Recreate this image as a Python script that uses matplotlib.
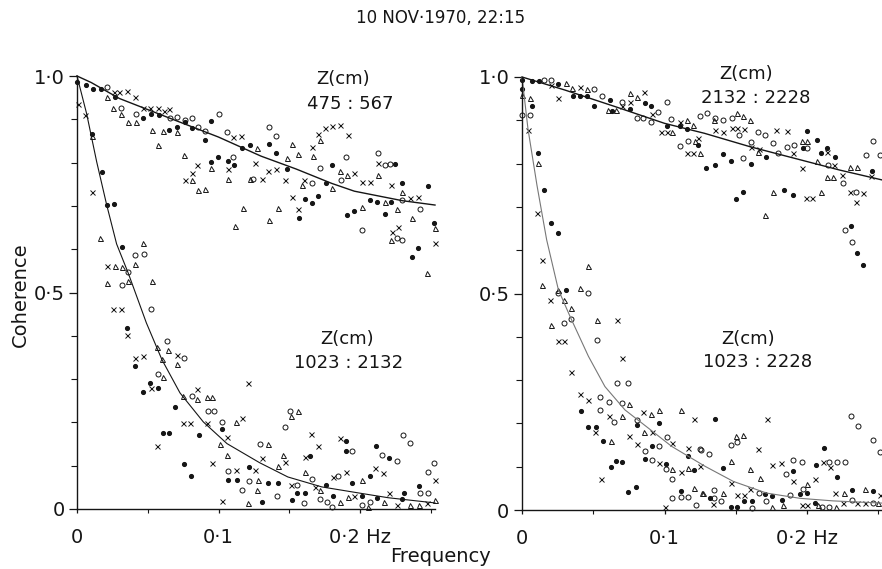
import matplotlib
matplotlib.use("Agg")
import matplotlib.pyplot as plt
from matplotlib.ticker import MultipleLocator, FixedLocator, FixedFormatter

# ---- data: (frequency Hz, coherence) ----
# left panel: 475:567 (upper band) and 1023:2132 (lower band)
L_DOT = [(0.000,0.987),(0.0064,0.980),(0.0115,0.970),(0.0167,0.971),(0.0269,0.952),(0.0464,0.903),(0.0523,0.913),
         (0.0582,0.910),(0.065,0.875),(0.0709,0.883),(0.0763,0.894),(0.081,0.879),(0.0905,0.852),(0.0947,0.896),
         (0.0994,0.813),(0.0947,0.802),(0.1065,0.803),(0.111,0.794),(0.1164,0.834),(0.122,0.840),(0.1357,0.842),
         (0.1404,0.823),(0.1482,0.785),(0.1805,0.794),(0.1611,0.715),(0.1663,0.707),(0.1706,0.723),(0.1906,0.679),
         (0.196,0.689),(0.207,0.713),(0.2123,0.709),(0.2177,0.682),(0.222,0.708),(0.2295,0.752),(0.2478,0.746),
         (0.176,0.754),(0.1569,0.671),(0.2247,0.796),(0.237,0.582),(0.241,0.603),(0.252,0.66),
         (0.0104,0.867),(0.0174,0.779),(0.0214,0.702),(0.026,0.704),(0.0316,0.606),(0.0356,0.419),(0.041,0.331),
         (0.0516,0.292),(0.0575,0.280),(0.0469,0.271),(0.0695,0.236),(0.1022,0.184),(0.061,0.176),(0.0653,0.176),
         (0.0865,0.172),(0.0756,0.105),(0.0803,0.077),(0.107,0.067),(0.1128,0.067),(0.1216,0.097),(0.1899,0.157),
         (0.1899,0.134),(0.211,0.145),(0.2207,0.117),(0.1647,0.122),(0.2071,0.077),(0.1941,0.059),(0.1757,0.055),
         (0.1352,0.059),(0.1418,0.059),(0.1552,0.036),(0.1517,0.020),(0.1611,0.036),(0.1305,0.017),(0.1812,0.030),
         (0.2012,0.030),(0.2118,0.026),(0.2313,0.037),(0.2417,0.053),(0.2295,0.022)]
L_CIRC = [(0.0214,0.975),(0.031,0.927),(0.0417,0.913),(0.0657,0.902),(0.0709,0.906),(0.0763,0.898),(0.081,0.903),
          (0.0857,0.883),(0.0905,0.873),(0.1006,0.912),(0.1058,0.871),(0.1105,0.813),(0.1246,0.763),(0.1357,0.883),
          (0.1404,0.861),(0.1899,0.813),(0.1717,0.788),(0.2125,0.823),(0.2177,0.794),(0.2212,0.796),(0.2295,0.713),
          (0.2012,0.644),(0.2259,0.625),(0.1866,0.759),(0.2424,0.692),(0.1658,0.753),(0.230,0.621),
          (0.041,0.586),(0.0473,0.588),(0.0358,0.548),(0.032,0.517),(0.0523,0.462),(0.0638,0.388),(0.0759,0.348),
          (0.0575,0.311),(0.081,0.261),(0.0928,0.227),(0.0968,0.226),(0.1027,0.200),(0.1065,0.088),(0.1218,0.064),
          (0.1166,0.045),(0.1505,0.227),(0.147,0.190),(0.1941,0.134),(0.2306,0.170),(0.2353,0.153),(0.2153,0.124),
          (0.2264,0.110),(0.1293,0.151),(0.2525,0.107),(0.2478,0.086),(0.1847,0.077),(0.1658,0.070),(0.1552,0.055),
          (0.1411,0.030),(0.1607,0.014),(0.1717,0.024),(0.1764,0.017),(0.1805,0.005),(0.2012,0.009),(0.2071,0.017),
          (0.2424,0.036),(0.2483,0.036)]
L_TRI = [(0.0214,0.952),(0.0257,0.927),(0.031,0.913),(0.0358,0.893),(0.0417,0.893),(0.0528,0.875),(0.0605,0.873),
         (0.0575,0.840),(0.0704,0.871),(0.0759,0.817),(0.0815,0.759),(0.0853,0.736),(0.0905,0.738),(0.0947,0.788),
         (0.1065,0.763),(0.117,0.696),(0.112,0.654),(0.122,0.763),(0.127,0.834),(0.1517,0.843),(0.1564,0.819),
         (0.1482,0.811),(0.167,0.815),(0.1717,0.852),(0.1859,0.780),(0.1906,0.771),(0.1805,0.742),(0.213,0.771),
         (0.1588,0.748),(0.1418,0.694),(0.1357,0.667),(0.2012,0.698),(0.2177,0.709),(0.2259,0.692),(0.2295,0.732),
         (0.222,0.621),(0.2365,0.671),(0.253,0.648),(0.247,0.545),
         (0.0104,0.862),(0.0163,0.625),(0.0469,0.615),(0.0269,0.561),(0.0316,0.559),(0.041,0.565),(0.0214,0.522),
         (0.0363,0.526),(0.0528,0.526),(0.0568,0.375),(0.0645,0.368),(0.0598,0.346),(0.0704,0.336),(0.0605,0.305),
         (0.0751,0.262),(0.0846,0.253),(0.0921,0.258),(0.0952,0.258),(0.1011,0.151),(0.1121,0.200),(0.1058,0.124),
         (0.127,0.045),(0.1211,0.015),(0.1560,0.227),(0.1512,0.214),(0.1352,0.151),(0.1458,0.124),(0.1418,0.099),
         (0.2012,0.067),(0.1611,0.086),(0.1717,0.043),(0.1282,0.067),(0.1859,0.017),(0.1913,0.028),(0.2059,0.005),
         (0.2172,0.017),(0.2353,0.009),(0.2417,0.009),(0.253,0.020)]
L_X = [(0.001,0.936),(0.026,0.963),(0.030,0.963),(0.035,0.965),(0.041,0.952),(0.0464,0.926),(0.0516,0.927),
       (0.0575,0.925),(0.0617,0.920),(0.065,0.923),(0.0846,0.794),(0.081,0.775),(0.0763,0.759),(0.1105,0.859),
       (0.1157,0.861),(0.1065,0.786),(0.126,0.798),(0.1663,0.836),(0.1706,0.867),(0.1753,0.879),(0.1800,0.885),
       (0.1859,0.886),(0.1913,0.863),(0.1352,0.780),(0.1404,0.786),(0.1305,0.761),(0.147,0.759),(0.1607,0.759),
       (0.1517,0.721),(0.156,0.692),(0.196,0.775),(0.2012,0.756),(0.207,0.756),(0.2125,0.800),(0.222,0.748),
       (0.2354,0.719),(0.2412,0.721),(0.2224,0.640),(0.2271,0.652),(0.253,0.615),
       (0.0057,0.911),(0.0104,0.732),(0.0214,0.561),(0.0252,0.463),(0.0309,0.462),(0.0351,0.402),(0.041,0.348),
       (0.0464,0.354),(0.0704,0.355),(0.0523,0.280),(0.0846,0.278),(0.0751,0.198),(0.0799,0.199),(0.0921,0.198),
       (0.1058,0.167),(0.0568,0.146),(0.1164,0.211),(0.1206,0.292),(0.0952,0.107),(0.1124,0.090),(0.1022,0.018),
       (0.1654,0.174),(0.170,0.145),(0.1859,0.163),(0.147,0.109),(0.1611,0.120),(0.1305,0.117),(0.253,0.068),
       (0.2106,0.094),(0.2165,0.084),(0.1812,0.074),(0.1899,0.086),(0.1682,0.051),(0.1258,0.090),(0.1512,0.055),
       (0.1960,0.030),(0.2205,0.037),(0.2259,0.009),(0.2471,0.013)]

# right panel: 2132:2228 (upper band) and 1023:2228 (lower band)
R_DOT = [(0.0,0.993),(0.0068,0.991),(0.0119,0.991),(0.0255,0.983),(0.036,0.957),(0.0407,0.955),(0.0454,0.955),
         (0.0505,0.934),(0.0618,0.946),(0.0629,0.922),(0.0758,0.926),(0.0863,0.939),(0.0905,0.932),(0.1015,0.886),
         (0.1109,0.886),(0.1156,0.880),(0.1233,0.843),(0.1291,0.789),(0.1354,0.797),(0.1408,0.822),(0.1464,0.805),
         (0.1605,0.799),(0.1712,0.816),(0.1548,0.734),(0.1502,0.718),(0.1839,0.739),(0.19,0.728),(0.1998,0.876),
         (0.2068,0.855),(0.1969,0.836),(0.2096,0.824),(0.2138,0.837),(0.2196,0.816),(0.2454,0.782),(0.2306,0.655),
         (0.235,0.593),(0.239,0.566),
         (0.0,0.973),(0.0068,0.932),(0.011,0.824),(0.0157,0.739),(0.0204,0.662),(0.025,0.639),(0.0306,0.509),
         (0.0414,0.228),(0.0805,0.197),(0.0961,0.201),(0.0461,0.191),(0.0519,0.191),(0.0566,0.160),(0.0910,0.147),
         (0.1163,0.124),(0.0657,0.114),(0.0699,0.112),(0.0625,0.100),(0.0863,0.118),(0.1008,0.107),(0.1209,0.093),
         (0.0746,0.041),(0.0798,0.053),(0.1114,0.045),(0.1354,0.210),(0.2119,0.143),(0.1408,0.097),(0.1904,0.089),
         (0.2063,0.104),(0.2213,0.077),(0.1319,0.027),(0.1558,0.020),(0.1612,0.020),(0.1464,0.008),(0.1506,0.008),
         (0.1705,0.037),(0.1752,0.033),(0.1822,0.023),(0.1951,0.037),(0.1998,0.039),(0.2313,0.046),(0.2461,0.045),
         (0.2056,0.016)]
R_CIRC = [(0.0157,0.993),(0.0204,0.993),(0.0505,0.973),(0.0559,0.955),(0.0699,0.943),(0.0805,0.905),(0.0851,0.905),
          (0.0905,0.896),(0.0957,0.920),(0.1015,0.943),(0.1046,0.903),(0.1249,0.909),(0.1109,0.841),(0.1163,0.852),
          (0.1296,0.916),(0.1354,0.905),(0.1408,0.901),(0.1471,0.905),(0.1525,0.866),(0.1553,0.812),(0.1605,0.851),
          (0.1658,0.874),(0.1705,0.865),(0.1759,0.847),(0.1799,0.824),(0.1862,0.839),(0.1909,0.843),(0.2002,0.836),
          (0.2150,0.797),(0.2255,0.755),(0.2461,0.852),(0.2412,0.820),(0.2512,0.820),(0.2344,0.734),(0.2267,0.647),
          (0.2313,0.620),
          (0.0056,0.913),(0.0,0.913),(0.0255,0.501),(0.0461,0.501),(0.0297,0.433),(0.0344,0.442),(0.0524,0.393),
          (0.0664,0.293),(0.0746,0.293),(0.0547,0.262),(0.0613,0.249),(0.0699,0.247),(0.0547,0.231),(0.0648,0.204),
          (0.0805,0.208),(0.0863,0.137),(0.0961,0.147),(0.1015,0.168),(0.1254,0.139),(0.091,0.116),(0.1008,0.094),
          (0.105,0.071),(0.1055,0.027),(0.1114,0.029),(0.1163,0.029),(0.1219,0.012),(0.2306,0.217),(0.2355,0.193),
          (0.2465,0.162),(0.2512,0.135),(0.1511,0.156),(0.1464,0.150),(0.1249,0.140),(0.1314,0.129),(0.1899,0.116),
          (0.1962,0.112),(0.1852,0.083),(0.2157,0.112),(0.2213,0.110),(0.2267,0.112),(0.1969,0.048),(0.1347,0.046),
          (0.1347,0.027),(0.1394,0.020),(0.1612,0.004),(0.1665,0.039),(0.1712,0.020),(0.188,0.035),(0.2103,0.008),
          (0.2157,0.006),(0.2313,0.023),(0.2465,0.016)]
R_TRI = [(0.0306,0.986),(0.0353,0.974),(0.0454,0.973),(0.0606,0.924),(0.0657,0.924),(0.0758,0.963),(0.0805,0.953),
         (0.1055,0.872),(0.1156,0.901),(0.1202,0.889),(0.1214,0.852),(0.1249,0.824),(0.1347,0.901),(0.151,0.916),
         (0.1553,0.909),(0.16,0.901),(0.1658,0.826),(0.1962,0.852),(0.1998,0.852),(0.2068,0.805),(0.2138,0.770),
         (0.2185,0.770),(0.2302,0.791),(0.2348,0.793),(0.1759,0.735),(0.2096,0.735),(0.1705,0.682),
         (0.0,0.959),(0.0056,0.951),(0.011,0.801),(0.0466,0.564),(0.0143,0.520),(0.0255,0.509),(0.0297,0.485),
         (0.0407,0.512),(0.0342,0.466),(0.0204,0.428),(0.0524,0.438),(0.0751,0.244),(0.0704,0.218),(0.0905,0.222),
         (0.0961,0.230),(0.1116,0.230),(0.0858,0.179),(0.0625,0.160),(0.1055,0.094),(0.1163,0.097),(0.1209,0.050),
         (0.1261,0.040),(0.1502,0.171),(0.1553,0.173),(0.1464,0.113),(0.1600,0.094),(0.1670,0.075),(0.1998,0.060),
         (0.1272,0.039),(0.1408,0.040),(0.1752,0.008),(0.1829,0.012),(0.2079,0.012),(0.2203,0.006),(0.2259,0.039),
         (0.25,0.016),(0.2407,0.048)]
R_X = [(0.0204,0.982),(0.0255,0.951),(0.0407,0.978),(0.0704,0.934),(0.0758,0.942),(0.0858,0.966),(0.091,0.915),
       (0.0973,0.874),(0.1015,0.872),(0.1109,0.897),(0.1237,0.860),(0.1156,0.824),(0.1198,0.824),(0.1354,0.878),
       (0.1408,0.872),(0.1471,0.883),(0.151,0.883),(0.1558,0.880),(0.1605,0.839),(0.1665,0.834),(0.1782,0.878),
       (0.1862,0.876),(0.1904,0.824),(0.1962,0.789),(0.2138,0.826),(0.219,0.797),(0.2243,0.774),(0.2447,0.772),
       (0.1993,0.720),(0.2033,0.720),(0.2302,0.735),(0.2395,0.733),(0.2344,0.711),
       (0.0044,0.878),(0.0103,0.685),(0.0143,0.578),(0.0196,0.485),(0.025,0.391),(0.0297,0.391),(0.0669,0.439),
       (0.0699,0.351),(0.0342,0.318),(0.0407,0.268),(0.0461,0.253),(0.0611,0.218),(0.0851,0.226),(0.1209,0.210),
       (0.0512,0.181),(0.0753,0.171),(0.091,0.179),(0.0805,0.153),(0.105,0.154),(0.1163,0.143),(0.0961,0.108),
       (0.1114,0.087),(0.1249,0.102),(0.0554,0.071),(0.1003,0.008),(0.1717,0.210),(0.1658,0.140),(0.1752,0.104),
       (0.1815,0.108),(0.2115,0.112),(0.2161,0.100),(0.2056,0.071),(0.1464,0.062),(0.1899,0.066),(0.16,0.048),
       (0.1343,0.014),(0.1511,0.035),(0.1558,0.035),(0.1962,0.012),(0.1998,0.012),(0.2196,0.039),(0.2255,0.017),
       (0.2353,0.016),(0.2407,0.016),(0.2512,0.035)]

# fitted curves, read at a few frequencies
L_UP_F = [0, 0.01, 0.03, 0.066, 0.10, 0.13, 0.155, 0.18, 0.196, 0.23, 0.253]
L_UP_C = [1.0, 0.985, 0.948, 0.902, 0.859, 0.815, 0.785, 0.752, 0.734, 0.712, 0.702]
L_LO_F = [0, 0.0068, 0.0139, 0.021, 0.028, 0.0363, 0.049, 0.060, 0.0728, 0.0893, 0.106, 0.129, 0.149, 0.173, 0.201, 0.220, 0.253]
L_LO_C = [1.0, 0.913, 0.802, 0.702, 0.612, 0.544, 0.43, 0.345, 0.268, 0.201, 0.151, 0.107, 0.074, 0.051, 0.036, 0.026, 0.014]
R_UP_F = [0, 0.03, 0.065, 0.10, 0.128, 0.16, 0.195, 0.223, 0.253]
R_UP_C = [1.0, 0.970, 0.932, 0.893, 0.870, 0.839, 0.809, 0.785, 0.762]
R_LO_F = [0, 0.0042, 0.0105, 0.0173, 0.0255, 0.0337, 0.0466, 0.0582, 0.0723, 0.0887, 0.105, 0.1284, 0.1483, 0.1717, 0.195, 0.2185, 0.2524]
R_LO_C = [1.0, 0.88, 0.75, 0.624, 0.509, 0.447, 0.355, 0.285, 0.231, 0.189, 0.147, 0.101, 0.066, 0.039, 0.027, 0.021, 0.016]

X_TICKS = [0, 0.1, 0.2]
X_LABELS = ["0", "0·1", "0·2 Hz"]
Y_TICKS = [0, 0.5, 1.0]
Y_LABELS = ["0", "0·5", "1·0"]

INK = "#151515"

fig = plt.figure(figsize=(8.82, 5.69), dpi=100)
axL = fig.add_axes([77/882, 60/569, 358/882, 433/569])
axR = fig.add_axes([522/882, 59/569, 360/882, 433/569])


def scatter(ax, pts, **kw):
    f, c = zip(*pts)
    ax.plot(f, c, linestyle="none", color=INK, clip_on=False, **kw)


for ax, dots, circ, tri, xs, xmax in [(axL, L_DOT, L_CIRC, L_TRI, L_X, 0.253),
                                      (axR, R_DOT, R_CIRC, R_TRI, R_X, 0.2526)]:
    scatter(ax, dots, marker="o", ms=2.7, mec=INK, mfc=INK)
    scatter(ax, circ, marker="o", ms=3.6, mfc="none", mew=0.7)
    scatter(ax, tri, marker="^", ms=3.6, mfc="none", mew=0.7)
    scatter(ax, xs, marker="x", ms=3.6, mew=0.7)
    ax.set_xlim(0, xmax)
    ax.set_ylim(0, 1.0)
    for s in ("top", "right"):
        ax.spines[s].set_visible(False)
    for s in ("left", "bottom"):
        ax.spines[s].set_color(INK)
        ax.spines[s].set_linewidth(1.0)
    ax.xaxis.set_major_locator(FixedLocator(X_TICKS))
    ax.xaxis.set_major_formatter(FixedFormatter(X_LABELS))
    ax.xaxis.set_minor_locator(FixedLocator([0.05, 0.15, 0.25]))
    ax.yaxis.set_major_locator(FixedLocator(Y_TICKS))
    ax.yaxis.set_major_formatter(FixedFormatter(Y_LABELS))
    ax.yaxis.set_minor_locator(MultipleLocator(0.1))
    ax.tick_params(axis="both", which="major", direction="out", length=6, width=0.9,
                   color=INK, labelsize=14, labelcolor=INK)
    ax.tick_params(axis="x", which="major", length=3, pad=11)
    ax.tick_params(axis="y", which="major", pad=3)
    ax.tick_params(axis="both", which="minor", direction="out", length=4, width=0.8, color=INK)
    ax.tick_params(axis="x", which="minor", length=3)

axL.plot(L_UP_F, L_UP_C, color=INK, lw=1.0, clip_on=False)
axL.plot(L_LO_F, L_LO_C, color=INK, lw=0.8, clip_on=False)
axR.plot(R_UP_F, R_UP_C, color=INK, lw=1.0, clip_on=False)
axR.plot(R_LO_F, R_LO_C, color="#777777", lw=0.8, clip_on=False)

txt = dict(fontsize=13, color=INK, ha="center", va="center")
fig.text(343/882, 1 - 79/569, "Z(cm)", **txt)
fig.text(350/882, 1 - 104/569, "475 : 567", **txt)
fig.text(347/882, 1 - 339/569, "Z(cm)", **txt)
fig.text(349/882, 1 - 363/569, "1023 : 2132", **txt)
fig.text(746/882, 1 - 74/569, "Z(cm)", **txt)
fig.text(756/882, 1 - 98/569, "2132 : 2228", **txt)
fig.text(748/882, 1 - 339/569, "Z(cm)", **txt)
fig.text(758/882, 1 - 362/569, "1023 : 2228", **txt)

fig.text(0.5, 1 - 18/569, "10 NOV·1970, 22:15", fontsize=12, color=INK, ha="center", va="center")
fig.text(20/882, 1 - 295/569, "Coherence", fontsize=14, color=INK, rotation=90, ha="center", va="center")
fig.text(441/882, 1 - 556/569, "Frequency", fontsize=14, color=INK, ha="center", va="center")

fig.savefig("out.png", dpi=100, facecolor="white")
